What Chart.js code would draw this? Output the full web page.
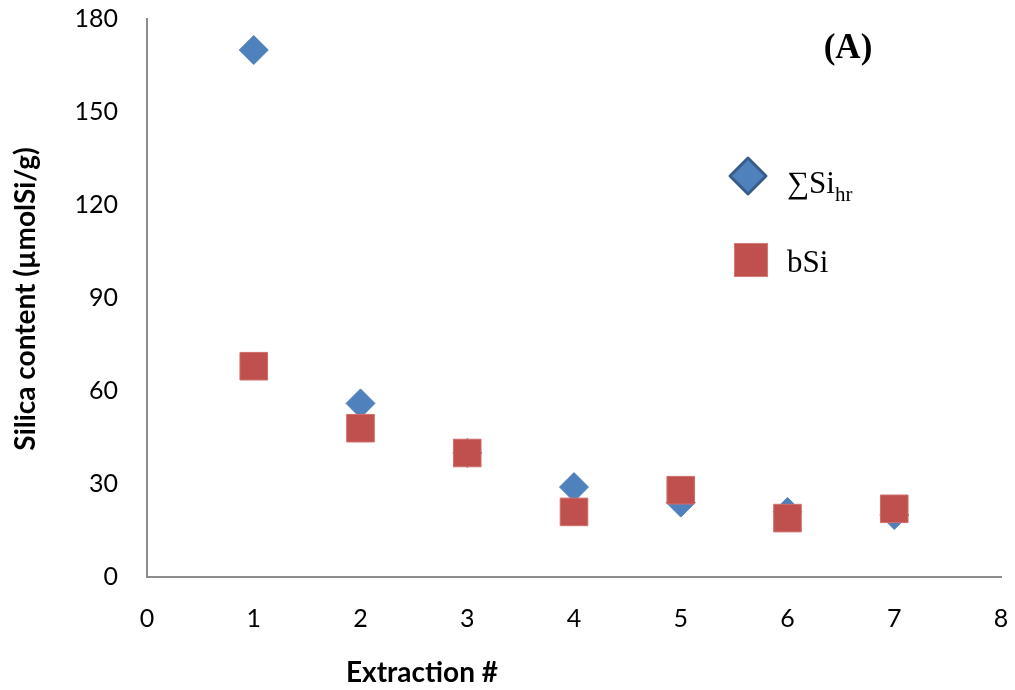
<!DOCTYPE html>
<html>
<head>
<meta charset="utf-8">
<script src="https://cdn.jsdelivr.net/npm/chart.js@4/dist/chart.umd.min.js"></script>
<style>
  html, body { margin: 0; padding: 0; background: #ffffff; }
  #wrap { position: relative; width: 1015px; height: 690px; }
</style>
</head>
<body>
<div id="wrap"><canvas id="chart" width="1015" height="690"></canvas></div>
<script>
// Extraction number and silica content per extraction (µmolSi/g)
const extraction = [1, 2, 3, 4, 5, 6, 7];
const sumSiHr = [170, 56, 40, 29, 24, 21, 20];
const bSi = [68, 48, 40, 21, 28, 19, 22];
const xTicks = [0, 1, 2, 3, 4, 5, 6, 7, 8];
const yTicks = [0, 30, 60, 90, 120, 150, 180];

const BLUE = '#4F81BD';
const BLUE_EDGE = '#385D8A';
const RED = '#C0504D';
const AXIS = '#8C8C8C';
const TICK_FONT = { family: 'Lato', size: 25 };

function toPoints(ys) {
  return extraction.map((x, i) => ({ x: x, y: ys[i] }));
}

// Axis titles, panel tag and the series key, drawn on top of the plot
const annotations = {
  id: 'annotations',
  afterDraw(chart) {
    const ctx = chart.ctx;
    ctx.save();
    ctx.fillStyle = '#000000';

    // y-axis title
    ctx.save();
    ctx.translate(26, 299);
    ctx.rotate(-Math.PI / 2);
    ctx.font = 'bold 28px Lato';
    ctx.textAlign = 'center';
    ctx.textBaseline = 'middle';
    ctx.fillText('Silica content (µmolSi/g)', 0, 0);
    ctx.restore();

    // x-axis title
    ctx.font = 'bold 28px Lato';
    ctx.textAlign = 'center';
    ctx.textBaseline = 'middle';
    ctx.fillText('Extraction #', 422, 673);

    // panel tag
    ctx.font = 'bold 35px "Liberation Serif"';
    ctx.textAlign = 'center';
    ctx.textBaseline = 'alphabetic';
    ctx.fillText('(A)', 848, 58);

    // key: diamond marker
    const dx = 748, dy = 176, dr = 18;
    ctx.beginPath();
    ctx.moveTo(dx, dy - dr);
    ctx.lineTo(dx + dr, dy);
    ctx.lineTo(dx, dy + dr);
    ctx.lineTo(dx - dr, dy);
    ctx.closePath();
    ctx.fillStyle = BLUE;
    ctx.fill();
    ctx.lineWidth = 3;
    ctx.lineJoin = 'round';
    ctx.strokeStyle = BLUE_EDGE;
    ctx.stroke();

    // key: square marker
    ctx.fillStyle = RED;
    ctx.fillRect(734, 243, 34, 34);
    ctx.lineWidth = 1;
    ctx.strokeStyle = '#D27A78';
    ctx.strokeRect(734.5, 243.5, 33, 33);

    // key labels
    ctx.fillStyle = '#000000';
    ctx.textAlign = 'left';
    ctx.textBaseline = 'alphabetic';
    ctx.font = '31px "Liberation Serif"';
    const main = '\u2211Si';
    ctx.fillText(main, 787, 193);
    const w = ctx.measureText(main).width;
    ctx.font = '21px "Liberation Serif"';
    ctx.fillText('hr', 787 + w, 201);
    ctx.font = '31px "Liberation Serif"';
    ctx.fillText('bSi', 787, 272);

    ctx.restore();
  }
};

new Chart(document.getElementById('chart'), {
  type: 'scatter',
  data: {
    datasets: [
      {
        label: '\u2211Si hr',
        data: toPoints(sumSiHr),
        pointStyle: 'rectRot',
        pointRadius: 14.5,
        pointHoverRadius: 14.5,
        backgroundColor: BLUE,
        borderColor: BLUE,
        borderWidth: 1,
        order: 1
      },
      {
        label: 'bSi',
        data: toPoints(bSi),
        pointStyle: 'rect',
        pointRadius: 19.5,
        pointHoverRadius: 19.5,
        backgroundColor: RED,
        borderColor: '#CF6E6C',
        borderWidth: 1,
        order: 0
      }
    ]
  },
  options: {
    responsive: false,
    animation: false,
    events: [],
    layout: { autoPadding: false, padding: { left: 0, right: 14, top: 19, bottom: 0 } },
    plugins: {
      legend: { display: false },
      tooltip: { enabled: false }
    },
    scales: {
      x: {
        type: 'linear',
        min: xTicks[0],
        max: xTicks[xTicks.length - 1],
        afterBuildTicks(scale) { scale.ticks = xTicks.map(v => ({ value: v })); },
        afterFit(scale) {
          scale.height = 113;
          scale.paddingLeft = 0;
          scale.paddingRight = 0;
        },
        grid: { display: false, drawTicks: false },
        border: { display: true, color: AXIS, width: 2 },
        ticks: { color: '#000000', font: TICK_FONT, padding: 27, maxRotation: 0 }
      },
      y: {
        type: 'linear',
        min: yTicks[0],
        max: yTicks[yTicks.length - 1],
        afterBuildTicks(scale) { scale.ticks = yTicks.map(v => ({ value: v })); },
        afterFit(scale) {
          scale.width = 147;
          scale.paddingTop = 0;
          scale.paddingBottom = 0;
        },
        grid: { display: false, drawTicks: false },
        border: { display: true, color: AXIS, width: 2 },
        ticks: { color: '#000000', font: TICK_FONT, padding: 29 }
      }
    }
  },
  plugins: [annotations]
});
</script>
</body>
</html>
